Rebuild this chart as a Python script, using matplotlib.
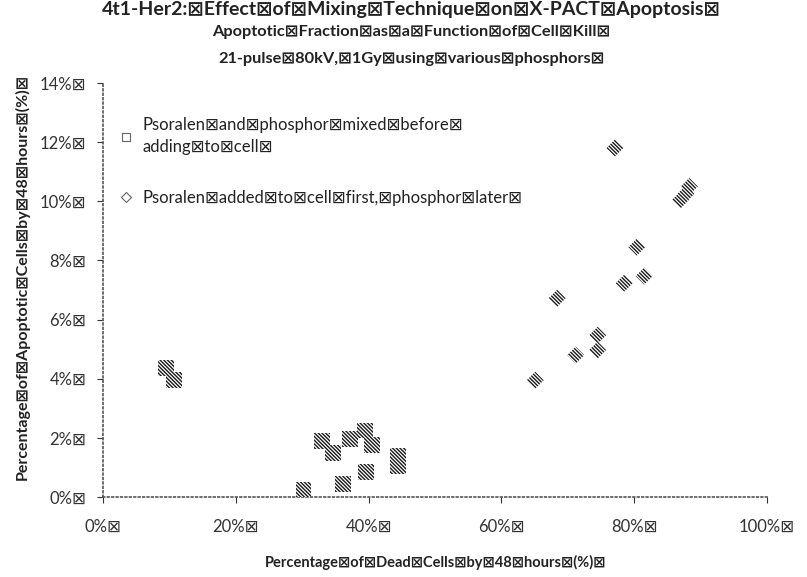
import matplotlib
matplotlib.use('Agg')
import matplotlib.pyplot as plt
from matplotlib.lines import Line2D
from matplotlib.ticker import FuncFormatter

plt.rcParams['font.family'] = ['Lato', 'DejaVu Sans']
plt.rcParams['hatch.linewidth'] = 1.0

B = '\u22a0'  # box glyph that stands in for the spaces in the original

# psoralen and phosphor mixed before adding to cell (squares)
mixed_dead = [9.5, 10.7, 30.2, 33.0, 34.6, 37.2, 39.5, 40.5, 36.1, 39.6, 44.4, 44.4, 44.4]
mixed_apop = [4.35, 3.95, 0.25, 1.9, 1.5, 1.95, 2.25, 1.75, 0.45, 0.85, 1.4, 1.2, 1.05]

# psoralen added to cell first, phosphor later (diamonds)
later_dead = [77.1, 87.0, 87.8, 88.3, 80.4, 81.5, 78.5, 68.4, 74.5, 74.5, 71.2, 65.1]
later_apop = [11.8, 10.05, 10.25, 10.5, 8.45, 7.47, 7.23, 6.72, 5.47, 4.97, 4.8, 3.95]

x_ticks = [0, 20, 40, 60, 80, 100]
y_ticks = [0, 2, 4, 6, 8, 10, 12, 14]

title = f'4t1-Her2:{B}Effect{B}of{B}Mixing{B}Technique{B}on{B}X-PACT{B}Apoptosis{B}'
sub1 = f'Apoptotic{B}Fraction{B}as{B}a{B}Function{B}of{B}Cell{B}Kill{B}'
sub2 = f'21-pulse{B}80kV,{B}1Gy{B}using{B}various{B}phosphors{B}'
xlab = f'Percentage{B}of{B}Dead{B}Cells{B}by{B}48{B}hours{B}(%){B}'
ylab = f'Percentage{B}of{B}Apoptotic{B}Cells{B}by{B}48{B}hours{B}(%){B}'
leg1 = f'Psoralen{B}and{B}phosphor{B}mixed{B}before{B}\nadding{B}to{B}cell{B}'
leg2 = f'Psoralen{B}added{B}to{B}cell{B}first,{B}phosphor{B}later{B}'

fig = plt.figure(figsize=(8.07, 5.77), dpi=100)
ax = fig.add_axes([0.1276, 0.1386, 0.8228, 0.7176])

ax.scatter(mixed_dead, mixed_apop, marker='s', s=130, facecolor='white',
           edgecolor='#1a1a1a', linewidths=0, hatch='\\' * 9, zorder=3)
ax.scatter(later_dead, later_apop, marker='D', s=75, facecolor='white',
           edgecolor='#1a1a1a', linewidths=0, hatch='\\' * 9, zorder=3)

ax.set_xlim(0, 100)
ax.set_ylim(0, 14)
ax.set_xticks(x_ticks)
ax.set_yticks(y_ticks)
ax.xaxis.set_major_formatter(FuncFormatter(lambda v, p: f'{v:.0f}%{B}'))
ax.yaxis.set_major_formatter(FuncFormatter(lambda v, p: f'{v:.0f}%{B}'))
ax.tick_params(labelsize=12, colors='#333333', length=4, width=0.8, pad=8)
ax.tick_params(axis='x', pad=12)

for s in ['top', 'right']:
    ax.spines[s].set_visible(False)
for s in ['left', 'bottom']:
    ax.spines[s].set_linestyle(':')
    ax.spines[s].set_linewidth(1.2)
    ax.spines[s].set_color('#555555')

handles = [
    Line2D([], [], marker='s', linestyle='none', markersize=6,
           markerfacecolor='white', markeredgecolor='#666666', markeredgewidth=0.8),
    Line2D([], [], marker='D', linestyle='none', markersize=5,
           markerfacecolor='white', markeredgecolor='#666666', markeredgewidth=0.8),
]
leg = ax.legend(handles, [leg1, leg2], loc='upper left', bbox_to_anchor=(0.0, 0.955),
                frameon=False, fontsize=12, handletextpad=0.5, labelspacing=2.1,
                handlelength=1.0, labelcolor='#222222')
for t in leg.get_texts():
    t.set_linespacing(1.5)

fig.text(0.51, 0.984, title, ha='center', va='center', fontsize=14, fontweight='bold', color='#222222')
fig.text(0.51, 0.944, sub1, ha='center', va='center', fontsize=11.8, fontweight='bold', color='#222222')
fig.text(0.51, 0.898, sub2, ha='center', va='center', fontsize=11.8, fontweight='bold', color='#222222')
fig.text(0.54, 0.025, xlab, ha='center', va='center', fontsize=10.5, fontweight='bold', color='#222222')
fig.text(0.028, 0.52, ylab, ha='center', va='center', rotation=90, fontsize=11.5,
         fontweight='bold', color='#222222')

fig.savefig('out.png', dpi=100)
